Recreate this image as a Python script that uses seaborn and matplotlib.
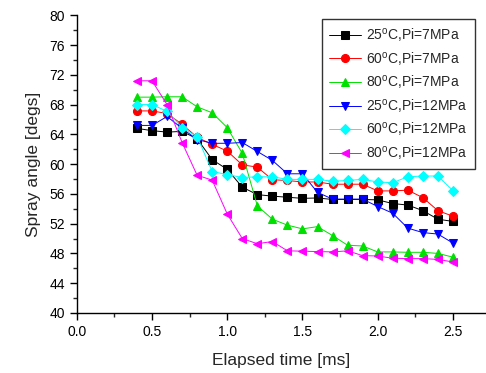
import matplotlib
matplotlib.use("Agg")
import matplotlib.pyplot as plt
from matplotlib.ticker import MultipleLocator
import numpy as np
import pandas as pd
import seaborn as sns

sns.set_theme(style="ticks")
plt.rcParams["font.family"] = ["Liberation Sans", "DejaVu Sans"]
plt.rcParams["mathtext.fontset"] = "custom"
plt.rcParams["mathtext.rm"] = "Liberation Sans"

# elapsed time [ms]
time_ms = [0.4, 0.5, 0.6, 0.7, 0.8, 0.9, 1.0, 1.1, 1.2, 1.3, 1.4,
           1.5, 1.6, 1.7, 1.8, 1.9, 2.0, 2.1, 2.2, 2.3, 2.4, 2.5]

# spray angle [degs]
t25_p7 = [64.8, 64.5, 64.3, 64.4, 63.4, 60.6, 59.3, 56.9, 55.9, 55.7, 55.55,
          55.4, 55.45, 55.25, 55.25, 55.25, 55.2, 54.7, 54.5, 53.75, 52.6, 52.3]
t60_p7 = [67.15, 67.15, 66.8, 65.35, 63.6, 62.65, 61.75, 59.9, 59.6, 57.9, 57.8,
          57.6, 57.6, 57.3, 57.3, 57.3, 56.4, 56.4, 56.5, 55.5, 53.75, 53.0]
t80_p7 = [69.0, 69.0, 69.05, 69.05, 67.7, 66.9, 64.9, 61.45, 54.4, 52.6, 51.8,
          51.3, 51.6, 50.4, 49.1, 49.0, 48.2, 48.2, 48.15, 48.15, 48.0, 47.5]
t25_p12 = [65.2, 65.2, 66.4, 64.8, 63.3, 62.8, 62.8, 62.9, 61.7, 60.5, 58.7,
           58.7, 56.2, 55.3, 55.3, 55.3, 54.3, 53.4, 51.4, 50.8, 50.6, 49.4]
t60_p12 = [68.0, 68.0, 67.1, 64.9, 63.7, 59.0, 58.6, 58.2, 58.3, 58.3, 57.95,
           57.95, 57.95, 57.7, 57.8, 57.95, 57.6, 57.5, 58.3, 58.4, 58.4, 56.45]
t80_p12 = [71.2, 71.2, 68.0, 62.9, 58.5, 57.85, 53.3, 50.0, 49.3, 49.6, 48.35,
           48.3, 48.25, 48.2, 48.35, 47.7, 47.65, 47.35, 47.3, 47.3, 47.2, 46.85]

labels = [r"25$^{\mathrm{o}}$C,Pi=7MPa", r"60$^{\mathrm{o}}$C,Pi=7MPa",
          r"80$^{\mathrm{o}}$C,Pi=7MPa", r"25$^{\mathrm{o}}$C,Pi=12MPa",
          r"60$^{\mathrm{o}}$C,Pi=12MPa", r"80$^{\mathrm{o}}$C,Pi=12MPa"]
series = [t25_p7, t60_p7, t80_p7, t25_p12, t60_p12, t80_p12]
colors = ["#000000", "#ff0000", "#00e000", "#0000ff", "#00ffff", "#ff00ff"]
markers = ["s", "o", "^", "v", "D", "<"]

fig = plt.figure(figsize=(4.86, 3.73), dpi=100)
ax = fig.add_axes([0.158, 0.161, 0.842, 0.798])

for lab, vals, col, mk in zip(labels, series, colors, markers):
    df = pd.DataFrame({"time": time_ms, "angle": vals})
    sns.lineplot(data=df, x="time", y="angle", ax=ax, color=col, marker=mk,
                 markersize=5.8 if mk != "D" else 5.0, markeredgecolor=col,
                 linewidth=0.7, label=lab)

ax.set_xlim(0, 2.72)
ax.set_ylim(40, 80)
ax.xaxis.set_major_locator(MultipleLocator(0.5))
ax.xaxis.set_minor_locator(MultipleLocator(0.25))
ax.yaxis.set_major_locator(MultipleLocator(4))
ax.yaxis.set_minor_locator(MultipleLocator(2))
ax.xaxis.set_major_formatter(matplotlib.ticker.FormatStrFormatter("%.1f"))
ax.tick_params(which="major", direction="out", length=5, width=1,
               labelsize=10, colors="#000000")
ax.tick_params(which="minor", direction="out", length=3, width=1)
for s in ["top", "right"]:
    ax.spines[s].set_visible(False)
for s in ["left", "bottom"]:
    ax.spines[s].set_color("black")
    ax.spines[s].set_linewidth(1)

ax.set_xlabel("Elapsed time [ms]", fontsize=12.5, labelpad=10)
ax.set_ylabel("Spray angle [degs]", fontsize=12.5, labelpad=6)

leg = ax.legend(loc="upper right", bbox_to_anchor=(0.99, 1.01), fontsize=10,
                frameon=True, fancybox=False, handlelength=2.3,
                borderpad=0.5, labelspacing=0.4, handletextpad=0.4)
leg.get_frame().set_edgecolor("black")
leg.get_frame().set_linewidth(1)

fig.savefig("out.png", dpi=100)
